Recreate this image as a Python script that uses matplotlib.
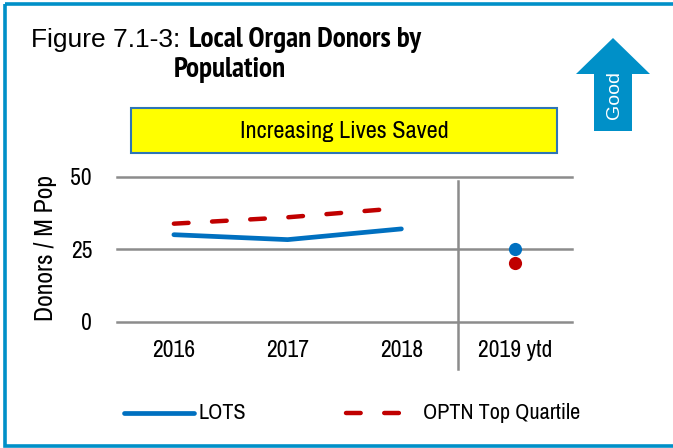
import matplotlib
matplotlib.use("Agg")
import matplotlib.pyplot as plt
from matplotlib import font_manager
from matplotlib.patches import Rectangle, Polygon
from matplotlib.lines import Line2D

# data
years = ["2016", "2017", "2018"]
lots = [30.0, 28.3, 32.0]
optn = [33.8, 36.0, 39.2]
ytd_label = "2019 ytd"
lots_ytd = 25.0
optn_ytd = 20.4
yticks = [0, 25, 50]

fl = font_manager.fontManager.ttflist
names = {f.name for f in fl}
bold_names = {f.name for f in fl if (f.weight if isinstance(f.weight, int) else 400) >= 700}


def pick(cands, pool, default="Liberation Sans"):
    for c in cands:
        if c in pool:
            return c
    return default


NARROW = pick(["Liberation Sans Narrow", "Arial Narrow", "Archivo Narrow", "PT Sans Narrow",
               "Roboto Condensed"], names)
NARROW_B = pick(["Liberation Sans Narrow", "Arial Narrow", "PT Sans Narrow", "Roboto Condensed",
                 "Archivo Narrow", "Barlow Condensed"], bold_names)
REG = "Liberation Sans"

BLUE = "#0070C0"
RED = "#C00000"
FRAME = "#0090C8"
GRID = "#8C8C8C"

W, H = 673, 448
fig = plt.figure(figsize=(W / 100, H / 100), dpi=100)

# overlay for decorations, pixel coords
deco = fig.add_axes([0, 0, 1, 1])
deco.set_xlim(0, W)
deco.set_ylim(H, 0)
deco.axis("off")

deco.add_patch(Rectangle((4.5, 4.5), W + 10, 442, fill=False, ec=FRAME, lw=2.6))

# title
fig.text(31 / W, 1 - 47 / H, "Figure 7.1-3:", family=REG, fontsize=19, va="baseline", ha="left")
fig.text(189 / W, 1 - 47 / H, "Local Organ Donors by", family=NARROW_B, fontsize=21,
         fontweight="bold", va="baseline", ha="left")
fig.text(174 / W, 1 - 77 / H, "Population", family=NARROW_B, fontsize=21,
         fontweight="bold", va="baseline", ha="left")

# yellow box
deco.add_patch(Rectangle((131, 108), 426, 45, fc="#FFFF00", ec="#2E75B6", lw=1.5))
deco.text(344, 131, "Increasing Lives Saved", family=NARROW, fontsize=17.5, ha="center", va="center")

# good arrow
deco.add_patch(Polygon([(613, 38), (650, 74), (632, 74), (632, 131), (594, 131), (594, 74), (576, 74)],
                       closed=True, fc=FRAME, ec="none"))
deco.text(614, 95, "Good", family=REG, fontsize=14, color="white", rotation=90, ha="center", va="center")

# legend
deco.add_line(Line2D([124, 194], [413, 413], color=BLUE, lw=3.4, solid_capstyle="round"))
deco.text(198, 413, "LOTS", family=NARROW, fontsize=16, ha="left", va="center")
deco.add_line(Line2D([346, 402], [413, 413], color=RED, lw=3.2, dash_capstyle="round", dashes=(3.3, 5.3)))
deco.text(423, 413, "OPTN Top Quartile", family=NARROW, fontsize=16, ha="left", va="center")

# chart
ax = fig.add_axes([117 / W, 1 - 321.7 / H, 455 / W, 145 / H])
ax.set_xlim(-0.5, 3.5)
ax.set_ylim(0, 50)
for s in ax.spines.values():
    s.set_visible(False)
ax.set_yticks(yticks)
ax.set_yticklabels([str(v) for v in yticks], family=NARROW, fontsize=17)
ax.set_xticks(range(4))
ax.set_xticklabels(years + [ytd_label], family=NARROW, fontsize=17)
ax.tick_params(axis="both", length=0)
ax.tick_params(axis="y", pad=18)
ax.tick_params(axis="x", pad=13)
for v in yticks:
    ax.axhline(v, color=GRID, lw=1.8, zorder=1, clip_on=False)
ax.axvline(2.5, ymin=-16.4 / 50, ymax=48.4 / 50, color=GRID, lw=1.8, clip_on=False, zorder=1)

ax.plot(range(len(years)), lots, color=BLUE, lw=3.4, solid_capstyle="round", zorder=3)
ax.plot(range(len(years)), optn, color=RED, lw=3.2, dash_capstyle="round", dashes=(3.3, 5.3), zorder=3)
ax.plot([3], [lots_ytd], "o", color=BLUE, ms=9.5, mec="none", zorder=4)
ax.plot([3], [optn_ytd], "o", color=RED, ms=9.5, mec="none", zorder=4)

ax.set_ylabel("Donors / M Pop", family=NARROW, fontsize=18.5)
ax.yaxis.set_label_coords(-60 / 455, (321.7 - 248) / 145)

fig.savefig("out.png", dpi=100)
